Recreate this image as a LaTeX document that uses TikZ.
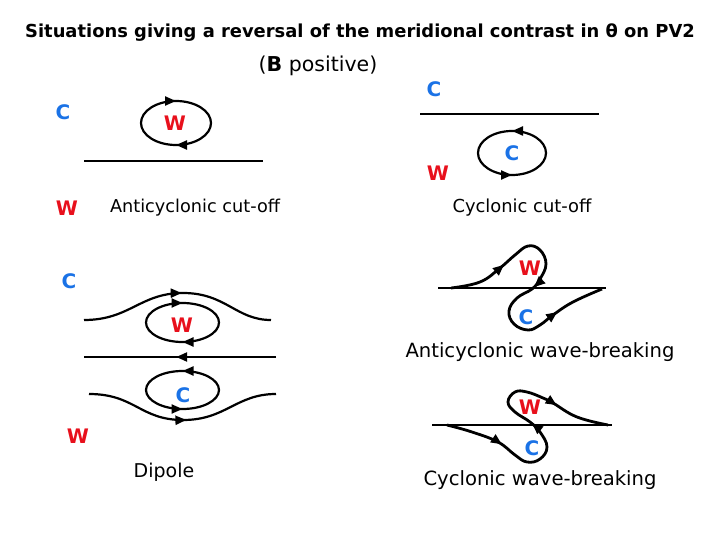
\documentclass[tikz,border=0pt]{standalone}
\usepackage{fontspec}
\setmainfont{DejaVu Sans}
\usetikzlibrary{arrows.meta,decorations.markings}
\definecolor{coldblue}{HTML}{1A72E6}
\definecolor{warmred}{HTML}{E8101C}

\tikzset{
  coldlbl/.style={text=coldblue,font=\bfseries\fontsize{20}{20}\selectfont},
  warmlbl/.style={text=warmred,font=\bfseries\fontsize{20}{20}\selectfont},
  caption/.style={font=\fontsize{#1}{#1}\selectfont},
  axisline/.style={line width=1.4pt},
  loopline/.style={line width=2.2pt},
  waveline/.style={line width=2.8pt,line join=round},
  tipat/.style={postaction={decorate,decoration={markings,
      mark=at position #1 with {\arrow{Triangle[length=11pt,width=9pt]}}}}},
  backtipat/.style={postaction={decorate,decoration={markings,
      mark=at position #1 with {\arrowreversed{Triangle[length=11pt,width=9pt]}}}}}
}

\begin{document}
\begin{tikzpicture}[x=1pt,y=-1pt]
  \useasboundingbox (0,0) rectangle (720,540);

  % title
  \node[font=\bfseries\fontsize{17.9}{17.9}\selectfont] (title) at (360,33)
    {Situations giving a reversal of the meridional contrast in θ on PV2};
  \node[font=\fontsize{20.5}{20.5}\selectfont] (sign) at (318,66)
    {(\textbf{B} positive)};

  % anticyclonic cut-off
  \node[coldlbl] (c1) at (63,112) {C};
  \draw[loopline,tipat=0.25,tipat=0.75] (176,123) ellipse [x radius=35,y radius=22];
  \node[warmlbl] (w1) at (175,123) {W};
  \draw[axisline] (84,161) -- (263,161);
  \node[warmlbl] (w1b) at (67,208) {W};
  \node[caption=17.7] (acut) at (195,208) {Anticyclonic cut-off};

  % cyclonic cut-off
  \node[coldlbl] (c2a) at (434,89) {C};
  \draw[axisline] (420,114) -- (599,114);
  \draw[loopline,backtipat=0.25,backtipat=0.75] (512,153) ellipse [x radius=34,y radius=22];
  \node[coldlbl] (c2) at (512,153) {C};
  \node[warmlbl] (w2) at (438,173) {W};
  \node[caption=17.9] (ccut) at (522,208) {Cyclonic cut-off};

  % dipole
  \node[coldlbl] (c3) at (69,281) {C};
  \draw[loopline,tipat=0.52] (84,320) .. controls (130,320) and (140,293) .. (183,293)
    .. controls (226,293) and (236,320) .. (271,320);
  \draw[loopline,tipat=0.25,tipat=0.75] (182.5,322.5) ellipse [x radius=36.5,y radius=19.5];
  \node[warmlbl] (w3) at (182,325) {W};
  \draw[loopline,tipat=0.52] (276,357) -- (84,357);
  \draw[loopline,backtipat=0.25,backtipat=0.75] (182.5,390) ellipse [x radius=36.5,y radius=19];
  \node[coldlbl] (c3b) at (183,395) {C};
  \draw[loopline,tipat=0.52] (89,394) .. controls (135,394) and (140,420) .. (183,420)
    .. controls (226,420) and (236,394) .. (276,394);
  \node[warmlbl] (w3b) at (78,436) {W};
  \node[caption=19] (dip) at (164,472) {Dipole};

  % anticyclonic wave-breaking
  \draw[axisline] (438,288) -- (606,288);
  \draw[waveline,tipat=0.2,tipat=0.49,tipat=0.83] plot[smooth,tension=0.7] coordinates
    {(451,288) (480,282) (500,268) (515,255) (528,246) (540,250) (546,264)
     (540,279) (532,289) (517,298) (509,311) (514,324) (528,330) (540,325)
     (553,315) (573,302) (602,289)};
  \node[warmlbl] (w4) at (530,268) {W};
  \node[coldlbl] (c4) at (526,317) {C};
  \node[caption=19.6] (awb) at (540,352) {Anticyclonic wave-breaking};

  % cyclonic wave-breaking
  \draw[axisline] (432,425) -- (612,425);
  \draw[waveline,tipat=0.2,tipat=0.5,tipat=0.81] plot[smooth,tension=0.7] coordinates
    {(447,425) (472,432) (498,442) (515,455) (527,462) (540,459) (547,447)
     (540,432) (530,422) (515,412) (508,402) (515,392) (527,392) (543,398)
     (553,403) (577,417) (608,425)};
  \node[warmlbl] (w5) at (530,407) {W};
  \node[coldlbl] (c5) at (532,448) {C};
  \node[caption=19.6] (cwb) at (540,480) {Cyclonic wave-breaking};
\end{tikzpicture}
\end{document}
